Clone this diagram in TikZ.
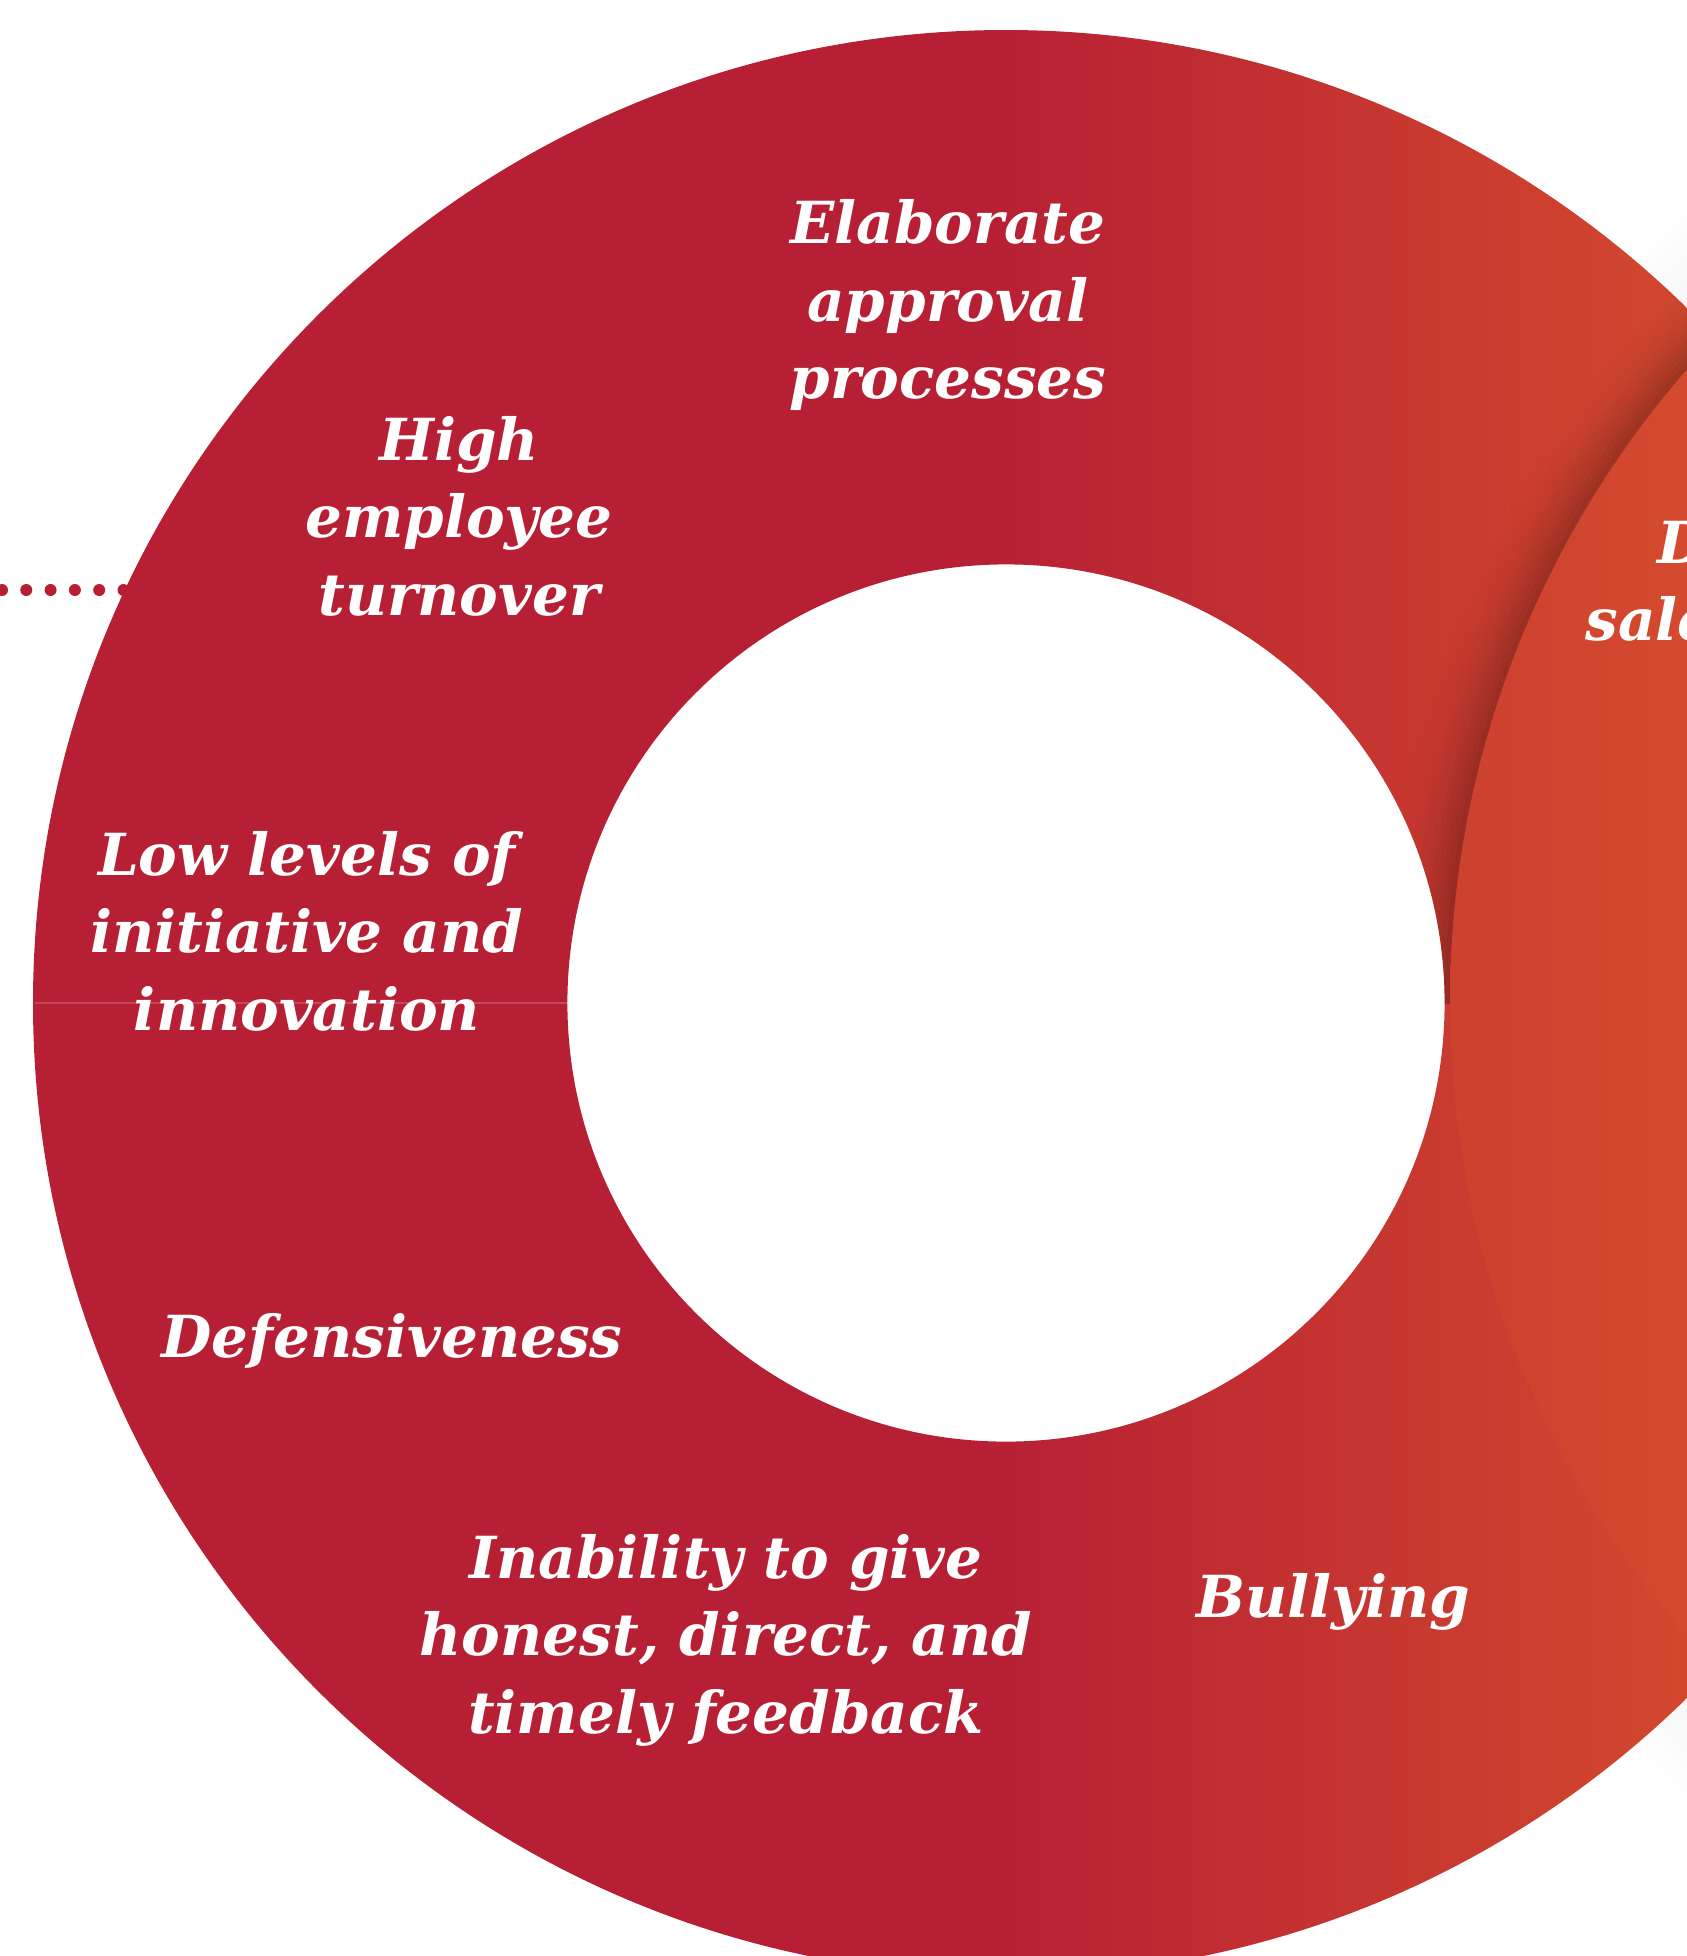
\documentclass[tikz,border=0pt]{standalone}
\usepackage{fontspec}
\setmainfont{DejaVu Serif}
\definecolor{crim}{RGB}{183,31,52}
\definecolor{orng}{RGB}{210,72,46}
\definecolor{ringtwoA}{RGB}{204,64,47}
\definecolor{ringtwoB}{RGB}{212,74,46}
% left ring: crimson on the left, warming to orange on the right
\pgfdeclarehorizontalshading{ringfade}{100bp}{color(0bp)=(crim); color(54bp)=(crim); color(75bp)=(orng); color(100bp)=(orng)}
\pgfdeclarehorizontalshading{ringtwofade}{100bp}{color(0bp)=(ringtwoA); color(25bp)=(ringtwoA); color(75bp)=(ringtwoB); color(100bp)=(ringtwoB)}
\begin{document}
\begin{tikzpicture}[x=0.5pt,y=-0.5pt,
  lbl/.style={text=white, font=\fontsize{29pt}{38.75pt}\selectfont\bfseries\itshape, align=center, inner sep=0pt},
  dots/.style={crim, line width=6pt, line cap=round, dash pattern=on 0pt off 12.15pt},
]
\useasboundingbox (0,0) rectangle (1687,1956);
\clip (0,0) rectangle (1687,1956);

\coordinate (c1) at (1006,1003);
\coordinate (c2) at (2415,1003);

% soft glow of the right ring on the page, outside the left ring
\begin{scope}[even odd rule]
  \path[clip] (0,0) rectangle (1687,1956) (c1) circle[radius=486.5pt];
  \foreach \k in {0,...,13}{
    \pgfmathsetmacro{\op}{0.05*(1-\k/14)}
    \draw[black, opacity=\op, line width=4pt] (c2) circle[radius={482.5pt+2pt+\k*4pt}];
  }
\end{scope}

% dotted leader on the left
\coordinate (dl) at (2,590);
\coordinate (dr) at (128,590);
\draw[dots] (dl) -- (dr);

% left ring with its shadow
\begin{scope}[even odd rule]
  \path[clip] (c1) circle[radius=486.5pt] (c1) circle[radius=219.3pt];
  \shade[shading=ringfade] (0,0) rectangle (1687,1956);
  \begin{scope}[nonzero rule]
    \clip (0,0) rectangle (1687,1003);
    \foreach \k in {0,...,13}{
      \pgfmathsetmacro{\op}{0.24*(1-\k/14)*(1-\k/14)}
      \draw[black, opacity=\op, line width=2.5pt] (c2) circle[radius={482.5pt+1.25pt+\k*2.5pt}];
    }
  \end{scope}
\end{scope}

% right ring
\begin{scope}
  \clip (c2) circle[radius=482.5pt];
  \shade[shading=ringtwofade] (1440,0) rectangle (1687,1956);
\end{scope}

% seam on the left half
\coordinate (seamL) at (35,1003);
\coordinate (seamR) at (568,1003);
\draw[white, opacity=0.18, line width=0.6pt] (seamL) -- (seamR);

% labels
\node[lbl] (elab) at (948,305) {Elaborate\\approval\\processes};
\node[lbl] (turn) at (459,516) {High\\employee\\turnover};
\node[lbl] (init) at (307,931) {Low levels of\\initiative and\\innovation};
\node[lbl, anchor=base] (defn) at (392,1357) {Defensiveness};
\node[lbl] (feed) at (726,1640) {Inability to give\\honest, direct, and\\timely feedback};
\node[lbl, anchor=base] (bull) at (1333,1617) {Bullying};
\node[lbl, anchor=base west] (decl) at (1657,563) {Declining};
\node[lbl, anchor=base west] (sale) at (1585,640) {sales};
\end{tikzpicture}
\end{document}
